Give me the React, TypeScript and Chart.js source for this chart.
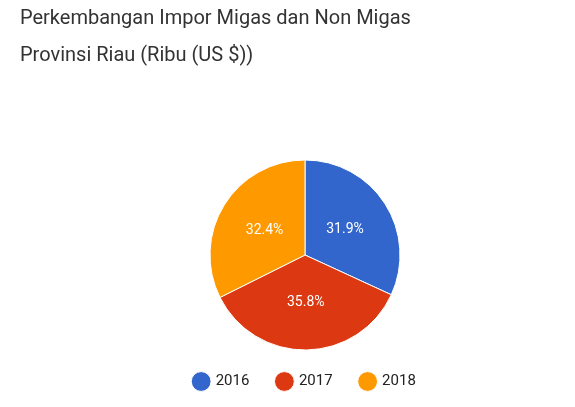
import { Chart, registerables } from "chart.js";
import { useEffect, useRef } from "react";

Chart.register(...registerables);

const years = ["2016", "2017", "2018"];
const shares = [31.9, 35.8, 32.4];
const colors = ["#3366cc", "#dc3912", "#ff9900"];
const titleLines = ["Perkembangan Impor Migas dan Non Migas", "Provinsi Riau (Ribu (US $))"];

const sliceLabels = {
	id: "sliceLabels",
	afterDatasetsDraw(chart: Chart) {
		const ctx = chart.ctx;
		const meta = chart.getDatasetMeta(0);
		ctx.save();
		ctx.fillStyle = "#ffffff";
		ctx.font = "14px Roboto, Arial, sans-serif";
		ctx.textAlign = "center";
		ctx.textBaseline = "middle";
		meta.data.forEach((arc: any, i: number) => {
			const p = arc.tooltipPosition();
			ctx.fillText(shares[i].toFixed(1) + "%", p.x, p.y);
		});
		ctx.restore();
	},
};

export default function App() {
	const canvasRef = useRef<HTMLCanvasElement>(null);
	const chartRef = useRef<Chart | null>(null);

	useEffect(() => {
		document.body.style.margin = "0";
		document.body.style.overflow = "hidden";
		if (!canvasRef.current) return;
		chartRef.current?.destroy();
		chartRef.current = new Chart(canvasRef.current, {
			type: "pie",
			data: {
				labels: years,
				datasets: [
					{
						data: shares,
						backgroundColor: colors,
						borderColor: "#ffffff",
						borderWidth: 1,
					},
				],
			},
			options: {
				animation: false,
				responsive: false,
				radius: 95,
				layout: { padding: { top: 0, bottom: 8 } },
				plugins: {
					title: {
						display: true,
						text: titleLines,
						align: "start",
						color: "#333333",
						font: { family: "Roboto, Arial, sans-serif", size: 20, weight: "normal", lineHeight: 1.85 },
						padding: { top: 0, bottom: 90 },
					},
					legend: {
						position: "bottom",
						labels: {
							usePointStyle: true,
							pointStyle: "circle",
							boxWidth: 14,
							boxHeight: 14,
							padding: 28,
							color: "#222222",
							font: { family: "Roboto, Arial, sans-serif", size: 15 },
						},
					},
					tooltip: { enabled: false },
				},
			},
			plugins: [sliceLabels],
		});
		return () => {
			chartRef.current?.destroy();
		};
	}, []);

	return (
		<div style={{ width: 590, height: 407, paddingLeft: 20, boxSizing: "border-box" }}>
			<canvas ref={canvasRef} width={570} height={407} />
		</div>
	);
}
